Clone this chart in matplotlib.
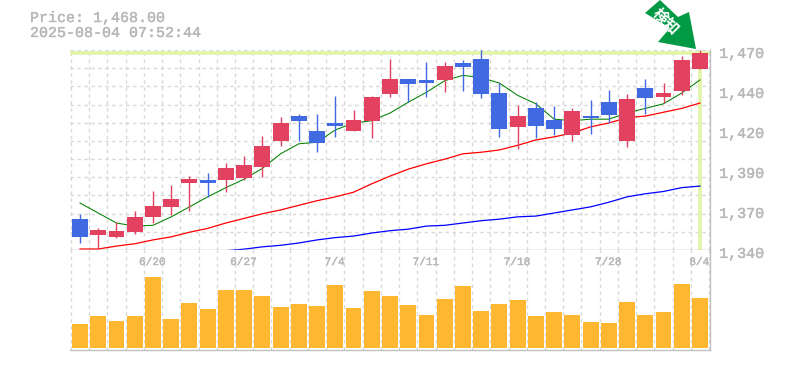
import matplotlib
matplotlib.use("Agg")
from matplotlib import pyplot as plt
from matplotlib.patches import Polygon
import matplotlib.patheffects as pe

# candles, oldest first
opens = [1362, 1351.5, 1350.5, 1353.5, 1363.5, 1370, 1385.5, 1387.5, 1387.5, 1389, 1396, 1413,
         1429, 1419.5, 1424.5, 1419.5, 1426, 1443.5, 1453, 1452.5, 1452.5, 1463.5, 1466, 1444,
         1422, 1434, 1426.5, 1416.5, 1429, 1438, 1413, 1447, 1441.5, 1445.5, 1459.5]
closes = [1350.5, 1355, 1354.5, 1363.5, 1370.5, 1375, 1388, 1385.5, 1395, 1397, 1409.5, 1424.5,
          1426, 1411.5, 1422.5, 1426.5, 1441.5, 1453, 1450, 1450.5, 1461.5, 1461, 1443.5, 1420.5,
          1429, 1422.5, 1420.5, 1432.5, 1428, 1429.5, 1440, 1441, 1444, 1465.5, 1470]
highs = [1365.5, 1356, 1360, 1367.5, 1380.5, 1384, 1390, 1392, 1398.5, 1403, 1416, 1428.5,
         1430.5, 1430.5, 1442, 1433, 1442, 1466, 1453, 1464, 1464, 1465.5, 1472, 1450.5,
         1436, 1438, 1435.5, 1434, 1439.5, 1446, 1443.5, 1453, 1450.5, 1468, 1472]
lows = [1346.5, 1342.5, 1349.5, 1352.5, 1359.5, 1364.5, 1367.5, 1376.5, 1379.5, 1387.5, 1389.5, 1409.5,
        1413, 1405.5, 1415.5, 1419.5, 1414.5, 1441.5, 1438, 1441.5, 1444.5, 1445.5, 1441, 1415.5,
        1407.5, 1414.5, 1416.5, 1413, 1417.5, 1424.5, 1409, 1430.5, 1437.5, 1442.5, 1459.5]

# moving averages
ma_short = [1372.5, 1366, 1359.5, 1357.5, 1358, 1363.5, 1370, 1376.5, 1382.5, 1388, 1395, 1404.5,
            1411, 1412, 1420, 1424.5, 1426, 1431, 1438, 1444.5, 1452, 1455.5, 1454, 1450.5,
            1442.5, 1437, 1427, 1426, 1427, 1427, 1431, 1434, 1437, 1444, 1452.5]
ma_mid = [1342.6, 1342.6, 1344.5, 1346, 1348.5, 1350.5, 1353.5, 1356, 1359.5, 1362.5, 1365.5, 1368,
          1371, 1374, 1376.5, 1379.5, 1385, 1390, 1394.5, 1398, 1401, 1404.5, 1405.5, 1407,
          1410, 1413.5, 1415.5, 1418, 1422, 1424.5, 1428, 1429, 1431.5, 1434, 1437.5]
ma_long = [1341.5, 1342.5, 1344, 1345, 1346.5, 1348.5, 1350, 1351, 1353, 1354.5, 1355.5, 1357.5,
           1358, 1359.5, 1361, 1362, 1363.5, 1364, 1366, 1368, 1370, 1373, 1376.5, 1378.5,
           1380, 1382.5, 1383.5]
ma_long_start = 8

volumes = [24, 32, 27, 32, 71, 29, 45, 39, 58, 58, 52, 41, 44, 42, 63, 40, 57, 52,
           43, 33, 49, 62, 37, 44, 48, 32, 36, 33, 26, 25, 46, 33, 36, 64, 50]

price_ticks = [1470, 1444, 1418, 1392, 1366, 1340]
price_labels = ["1,470", "1,440", "1,420", "1,390", "1,370", "1,340"]
date_ticks = [4, 9, 14, 19, 24, 29, 34]
date_labels = ["6/20", "6/27", "7/4", "7/11", "7/18", "7/28", "8/4"]
last_price = 1470

W, H = 785, 370
RED = "#E2425F"
BLUE = "#4169E1"
GRAY = "#B8B8B8"
GRID = "#D8D8D8"
MARK = "#E2F5A5"
MONO = "Liberation Mono"
HEAVY = [pe.withStroke(linewidth=0.3, foreground=GRAY)]


def make_axes(fig, top, bottom):
    ax = fig.add_axes([70 / W, 1 - bottom / H, 640 / W, (bottom - top) / H])
    ax.set_xlim(-0.55, 34.55)
    ax.set_xticks([i - 0.5 for i in range(36)])
    ax.tick_params(length=0, labelbottom=False, labelleft=False)
    ax.grid(True, color=GRID, linewidth=1.0, linestyle=(0, (2.5, 2.5)))
    ax.set_axisbelow(True)
    for side in ["top", "left"]:
        ax.spines[side].set_visible(False)
    for side in ["bottom", "right"]:
        ax.spines[side].set_color("#C0C0C0")
        ax.spines[side].set_linewidth(1.0)
    return ax


fig = plt.figure(figsize=(W / 100, H / 100), dpi=100)

ax = make_axes(fig, 50, 250)
ax.set_ylim(1341.95, 1471.95)
ax.set_yticks([1341.95 + 11.82 * i for i in range(12)])

xs = list(range(len(opens)))
ax.axhline(last_price, color=MARK, linewidth=2.6, zorder=1.5)
ax.vlines(xs[-1], 1341.95, last_price, color=MARK, linewidth=2.6, zorder=1.5)

ax.plot(xs, ma_short, color="#008000", linewidth=0.75, zorder=2)
ax.plot(xs, ma_mid, color="#FF0000", linewidth=0.9, zorder=2, clip_on=False)
ax.plot(xs[ma_long_start:], ma_long, color="#0000FF", linewidth=0.9, zorder=2, clip_on=False)

colors = [RED if c >= o else BLUE for o, c in zip(opens, closes)]
ax.vlines(xs, lows, highs, colors=colors, linewidth=1.0, zorder=3, clip_on=False)
ax.bar(xs, [abs(c - o) for o, c in zip(opens, closes)], bottom=[min(o, c) for o, c in zip(opens, closes)],
       width=0.87, color=colors, zorder=4, clip_on=False)

for pos, label in zip(price_ticks, price_labels):
    ax.text(35.05, pos - 0.6, label, color=GRAY, family=MONO, fontsize=10.8, va="center", ha="left",
            clip_on=False, path_effects=HEAVY)

vol = make_axes(fig, 250, 350)
vol.set_ylim(-2, 98)
vol.set_yticks([])
vol.bar(xs, volumes, width=0.87, color="#FFB732", zorder=3)
for pos, label in zip(date_ticks, date_labels):
    vol.text(pos - 0.04, 86, label, color=GRAY, family=MONO, fontsize=8, va="center", ha="center", zorder=4,
             path_effects=HEAVY)

# overlay in pixel coordinates for the header and the marker arrow
over = fig.add_axes([0, 0, 1, 1], facecolor="none")
over.set_xlim(0, W)
over.set_ylim(H, 0)
over.axis("off")
over.text(30, 18, "Price: 1,468.00", color=GRAY, family=MONO, fontsize=10.8, va="center", ha="left", path_effects=HEAVY)
over.text(30, 33, "2025-08-04 07:52:44", color=GRAY, family=MONO, fontsize=10.8, va="center", ha="left", path_effects=HEAVY)
arrow = [(645, 13), (660, 0), (678, 17), (689, 12), (696, 49), (658, 42), (670, 28)]
over.add_patch(Polygon(arrow, closed=True, facecolor="#009944", edgecolor="none"))
over.text(666, 21, "検知", color="white", family=["Noto Sans CJK JP", "DejaVu Sans"], fontsize=11,
          fontweight="bold", rotation=-45, rotation_mode="anchor", va="center", ha="center")

fig.savefig("out.png", dpi=100)
